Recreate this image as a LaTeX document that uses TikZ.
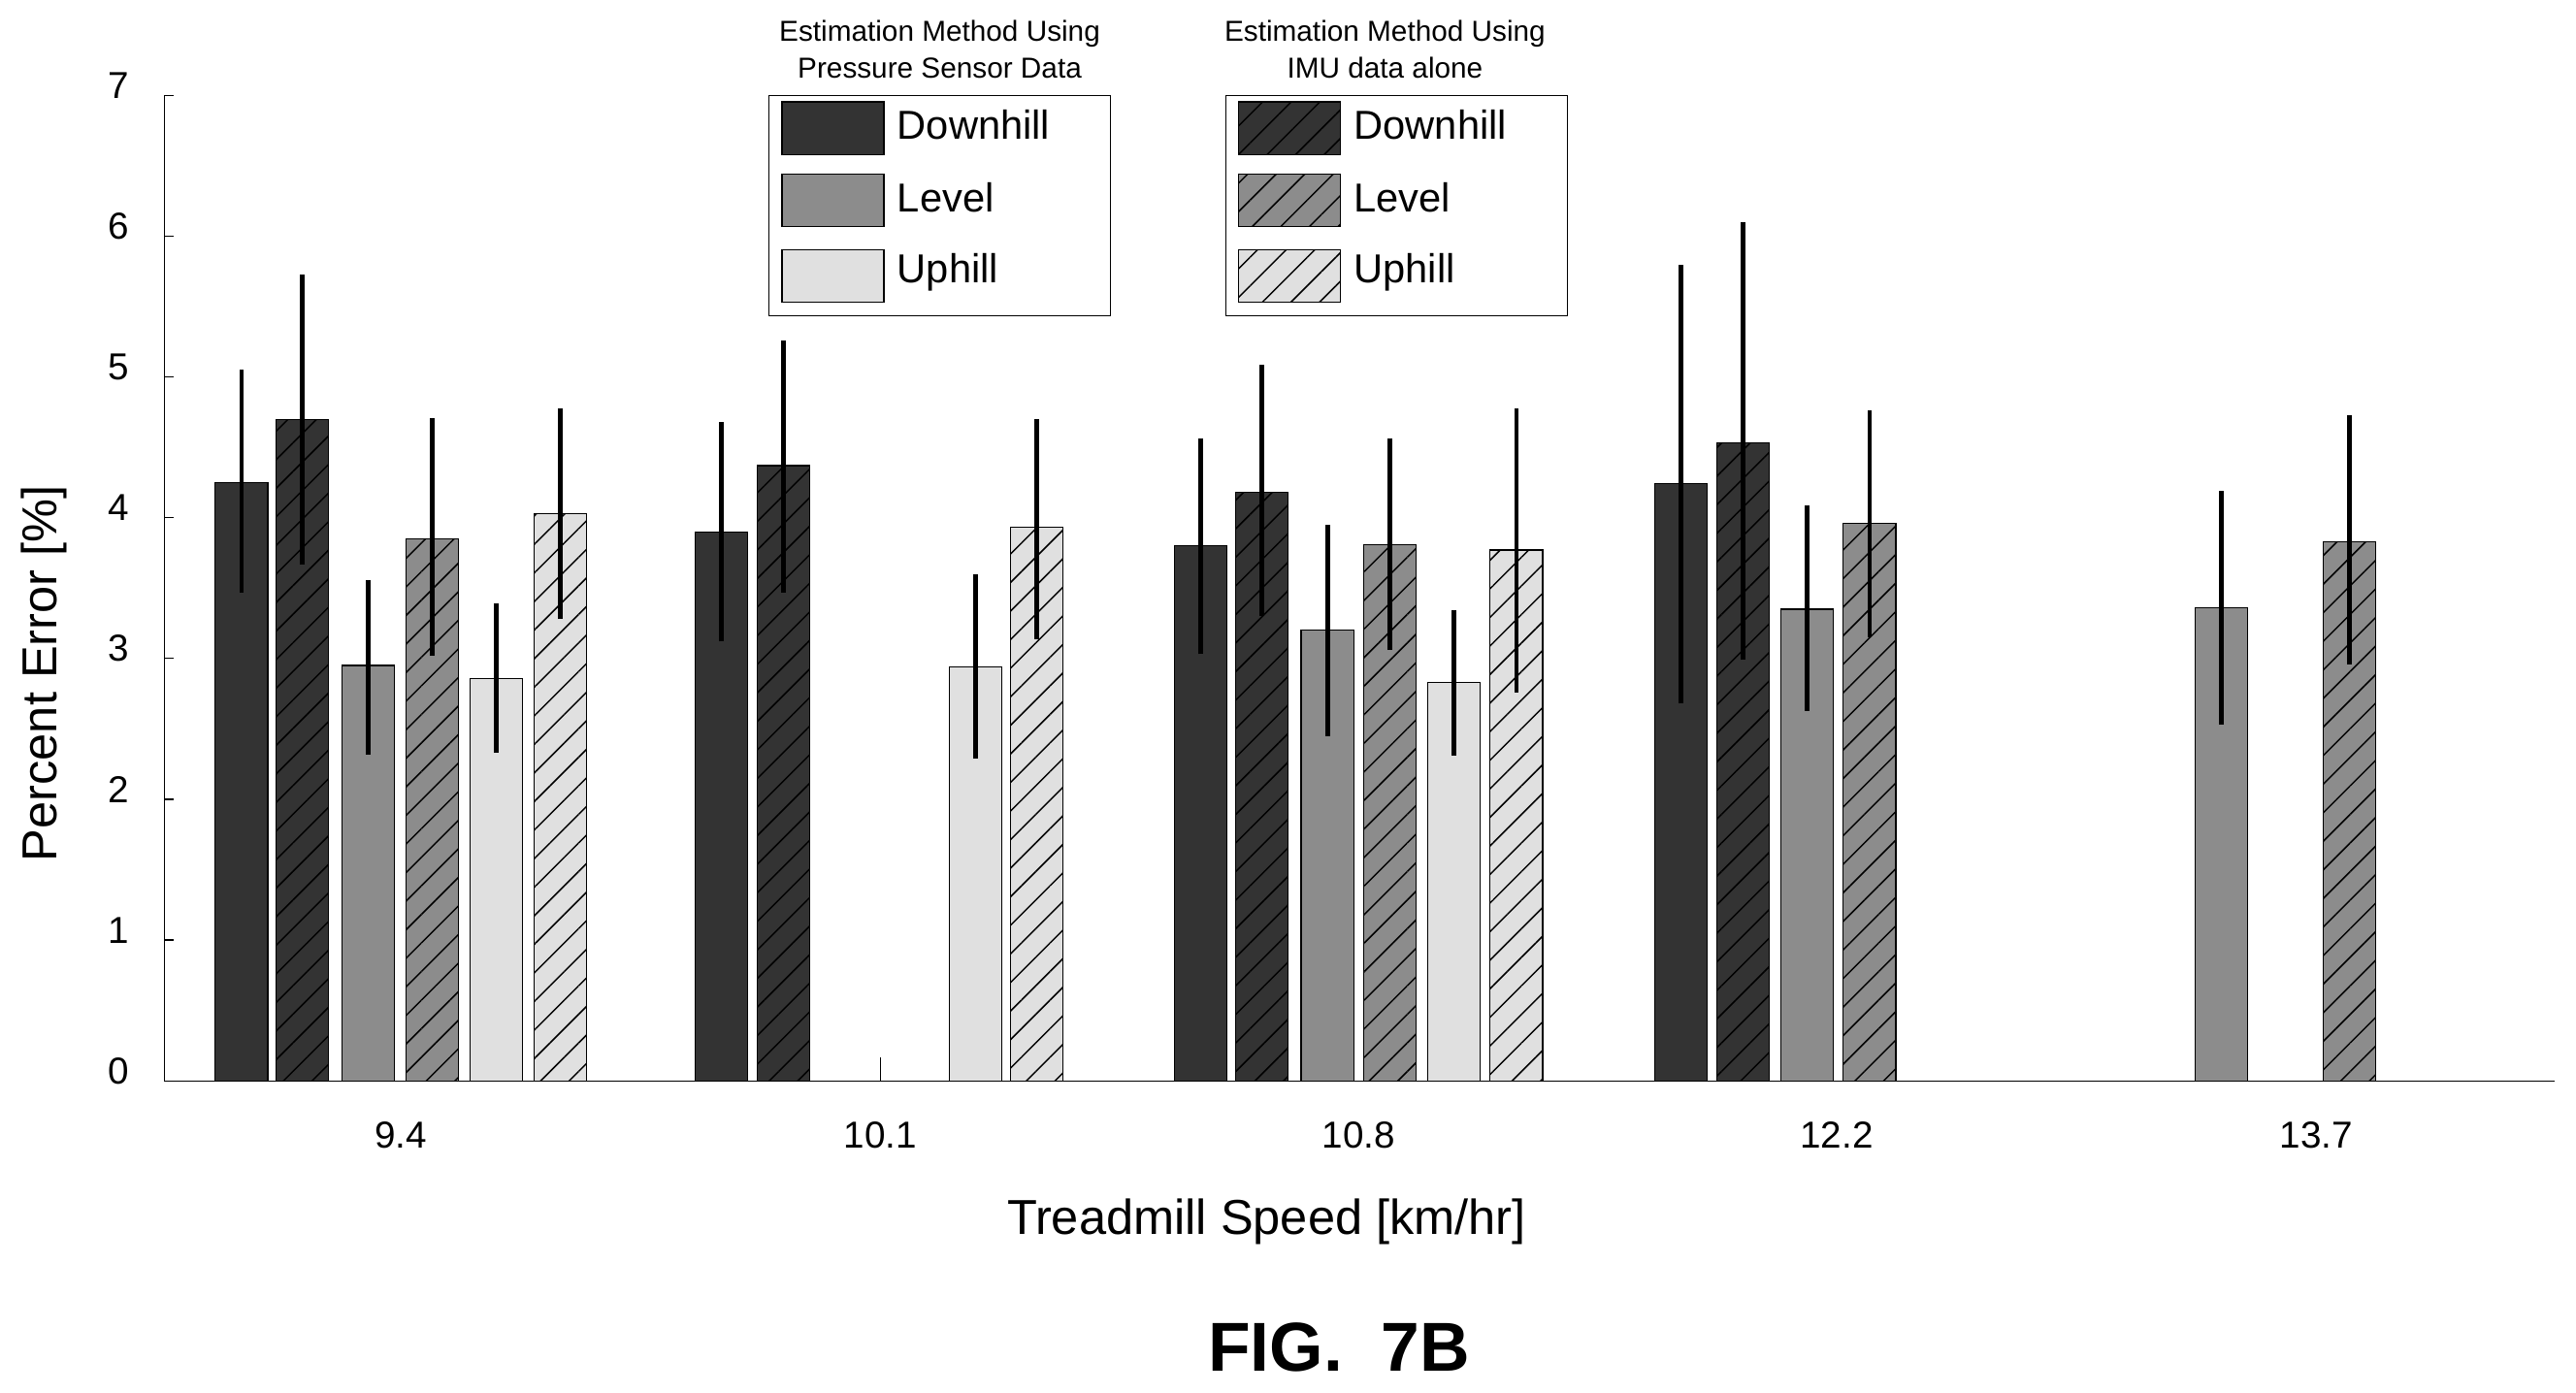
\documentclass[tikz,border=0pt]{standalone}
\usepackage{fontspec}
\setmainfont{Liberation Sans}
\usetikzlibrary{patterns.meta}
\definecolor{dhill}{gray}{0.2}
\definecolor{lvl}{gray}{0.55}
\definecolor{uhill}{gray}{0.88}
\tikzset{
	dn/.style={fill=dhill},
	lv/.style={fill=lvl},
	up/.style={fill=uhill},
	hatch/.style={postaction={pattern={Lines[angle=45,distance=7pt,line width=0.5pt]},pattern color=black}},
	tick/.style={font=\fontsize{13}{15}\selectfont}
}
% bar: left edge, value, low, high, style
\newcommand{\chartbar}[5]{
	\draw[#5] (#1,658) rectangle ({#1+32},{658-85.7*#2});
	\draw[line width=1.6pt] ({#1+16},{658-85.7*#3}) -- ({#1+16},{658-85.7*#4});}
\newcommand{\legentry}[4]{
	\draw[#4] (#1,{#2-16}) rectangle ({#1+62},{#2+16});
	\node[anchor=west,font=\fontsize{14}{16}\selectfont] at ({#1+64},{#2-2}) {#3};}
\begin{document}
\begin{tikzpicture}[x=0.02cm,y=-0.02cm]
	\useasboundingbox (0,0) rectangle (1568,848);
	% axes
	\draw (100,58) -- (100,658) -- (1555,658);
	\foreach \v in {0,...,7}{
		\draw (100,{658-85.7*\v}) -- (106,{658-85.7*\v});
		\node[tick] at (72,{652-85.7*\v}) {\v};}
	\foreach \x/\t in {244/9.4,536/10.1,827/10.8,1118/12.2,1410/13.7}
		\node[tick] at (\x,691) {\t};
	\node[font=\fontsize{17}{19}\selectfont] at (771,744) {Treadmill Speed [km/hr]};
	\node[rotate=90,font=\fontsize{17}{19}\selectfont] at (27,410) {Percent Error [\%]};
	% 9.4
	\chartbar{131}{4.25}{3.47}{5.05}{dn}
	\chartbar{168}{4.7}{3.67}{5.73}{dn,hatch}
	\chartbar{208}{2.95}{2.32}{3.56}{lv}
	\chartbar{247}{3.85}{3.02}{4.71}{lv,hatch}
	\chartbar{286}{2.86}{2.33}{3.39}{up}
	\chartbar{325}{4.03}{3.28}{4.78}{up,hatch}
	% 10.1
	\chartbar{423}{3.9}{3.12}{4.68}{dn}
	\chartbar{461}{4.37}{3.47}{5.26}{dn,hatch}
	\draw (536,644) -- (536,658);
	\chartbar{578}{2.94}{2.29}{3.6}{up}
	\chartbar{615}{3.93}{3.14}{4.7}{up,hatch}
	% 10.8
	\chartbar{715}{3.8}{3.03}{4.56}{dn}
	\chartbar{752}{4.18}{3.3}{5.09}{dn,hatch}
	\chartbar{792}{3.2}{2.45}{3.95}{lv}
	\chartbar{830}{3.81}{3.06}{4.56}{lv,hatch}
	\chartbar{869}{2.83}{2.31}{3.34}{up}
	\chartbar{907}{3.77}{2.76}{4.78}{up,hatch}
	% 12.2
	\chartbar{1007}{4.24}{2.68}{5.8}{dn}
	\chartbar{1045}{4.53}{2.99}{6.1}{dn,hatch}
	\chartbar{1084}{3.35}{2.63}{4.09}{lv}
	\chartbar{1122}{3.96}{3.15}{4.76}{lv,hatch}
	% 13.7
	\chartbar{1336}{3.36}{2.53}{4.19}{lv}
	\chartbar{1414}{3.83}{2.96}{4.73}{lv,hatch}
	% legends
	\node[align=center,font=\fontsize{10}{13}\selectfont] at (572,30) {Estimation Method Using\\Pressure Sensor Data};
	\draw (468,58) rectangle (676,192);
	\legentry{476}{78}{Downhill}{dn}
	\legentry{476}{122}{Level}{lv}
	\legentry{476}{168}{Uphill}{up}
	\node[align=center,font=\fontsize{10}{13}\selectfont] at (843,30) {Estimation Method Using\\IMU data alone};
	\draw (746,58) rectangle (954,192);
	\legentry{754}{78}{Downhill}{dn,hatch}
	\legentry{754}{122}{Level}{lv,hatch}
	\legentry{754}{168}{Uphill}{up,hatch}
	\node[font=\bfseries\fontsize{24}{28}\selectfont] at (815,820) {FIG.\ \ 7B};
\end{tikzpicture}
\end{document}
